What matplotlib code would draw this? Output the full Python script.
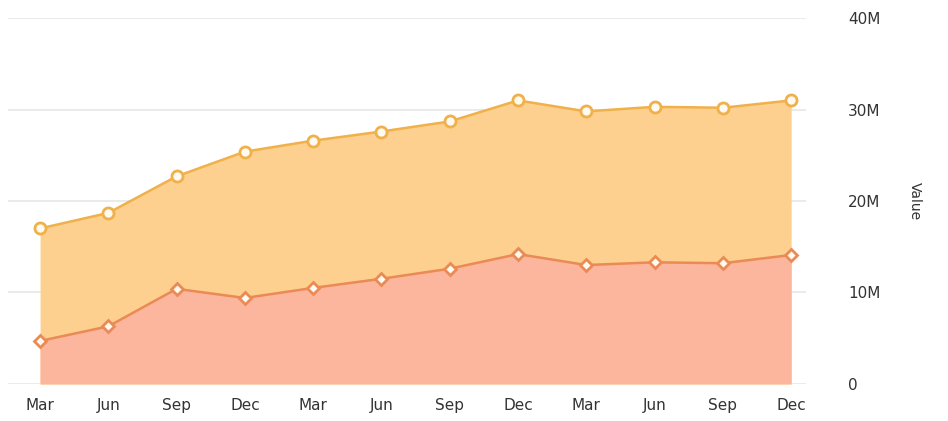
import matplotlib
matplotlib.use("Agg")
import matplotlib.pyplot as plt
from matplotlib.ticker import FuncFormatter

# ===== DATA =====
quarters = ["Mar", "Jun", "Sep", "Dec", "Mar", "Jun", "Sep", "Dec", "Mar", "Jun", "Sep", "Dec"]
total_values = [17.0, 18.7, 22.7, 25.4, 26.6, 27.6, 28.7, 31.0, 29.8, 30.3, 30.2, 31.0]   # millions
lower_values = [4.7, 6.3, 10.4, 9.4, 10.5, 11.5, 12.6, 14.2, 13.0, 13.3, 13.2, 14.1]      # millions
y_ticks = [0, 10, 20, 30, 40]

TOP_FILL = "#fdd08f"
TOP_LINE = "#f0b04a"
LOW_FILL = "#fcb69d"
LOW_LINE = "#ea8a55"

x = list(range(len(quarters)))

fig = plt.figure(figsize=(9.48, 4.21), dpi=100)
ax = fig.add_axes([0.0084, 0.088, 0.842, 0.869])

ax.fill_between(x, 0, total_values, color=TOP_FILL, linewidth=0, zorder=2)
ax.fill_between(x, 0, lower_values, color=LOW_FILL, linewidth=0, zorder=3)

ax.plot(x, total_values, color=TOP_LINE, linewidth=1.8, marker="o", markersize=8,
        markerfacecolor="#fffaf0", markeredgecolor=TOP_LINE, markeredgewidth=2, zorder=4)
ax.plot(x, lower_values, color=LOW_LINE, linewidth=1.8, marker="D", markersize=6.5,
        markerfacecolor="#fffaf0", markeredgecolor=LOW_LINE, markeredgewidth=2, zorder=5)

ax.set_xlim(-0.47, 11.22)
ax.set_ylim(0, 40)
ax.set_xticks(x)
ax.set_xticklabels(quarters)
ax.set_yticks(y_ticks)
ax.yaxis.set_major_formatter(FuncFormatter(lambda v, p: "0" if v == 0 else f"{int(v)}M"))

ax.yaxis.tick_right()
ax.yaxis.set_label_position("right")
ax.set_ylabel("Value", rotation=270, labelpad=30, fontsize=10, color="#333333")

ax.grid(axis="y", color="#e6e6e6", linewidth=1.2, zorder=0)
ax.set_axisbelow(True)
for s in ax.spines.values():
    s.set_visible(False)
ax.tick_params(axis="both", length=0, labelsize=11, colors="#333333")
ax.tick_params(axis="x", pad=10)
ax.tick_params(axis="y", pad=30)
for lbl in ax.get_yticklabels():
    lbl.set_horizontalalignment("left")

fig.savefig("out.png", dpi=100, facecolor="white")
